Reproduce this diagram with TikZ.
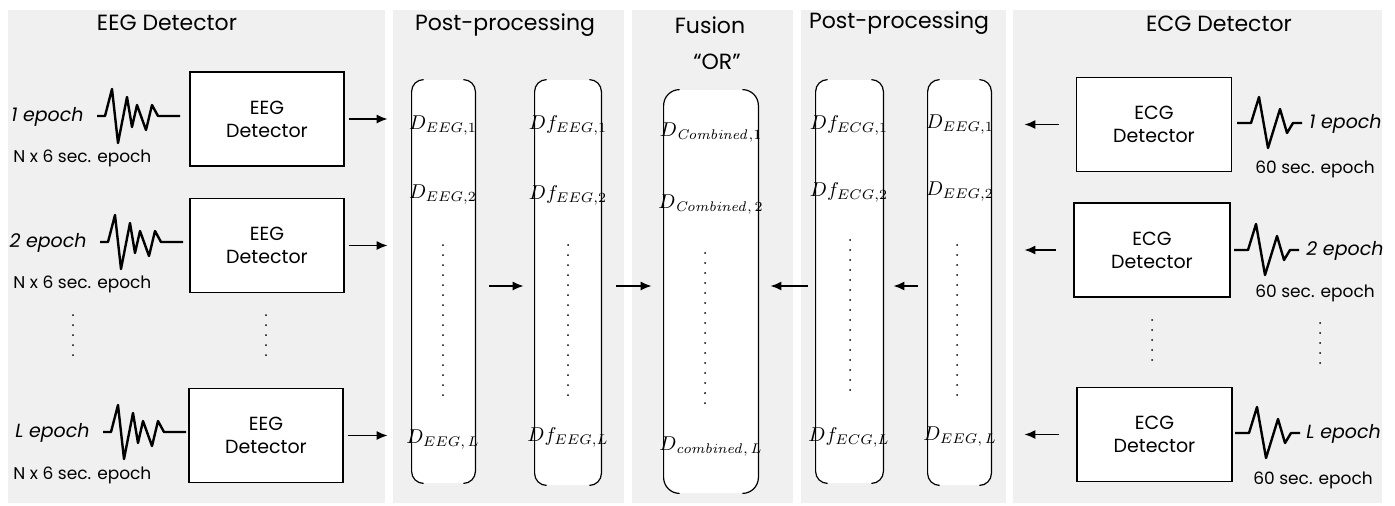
\documentclass[tikz,border=0pt]{standalone}
\usepackage{amsmath}
\usepackage[no-math]{fontspec}
\setmainfont{Poppins}
\usepackage{tikz}
\usetikzlibrary{arrows.meta, positioning}
\definecolor{panelgray}{HTML}{F0F0F0}

\begin{document}
\begin{tikzpicture}[
  x=0.5pt, y=-0.5pt,
  panel/.style={fill=panelgray, draw=none},
  title/.style={font=\fontsize{11}{13}\selectfont, inner sep=0pt},
  detector/.style={draw, line width=0.6pt, fill=white, minimum width=77pt, minimum height=47pt, align=center, font=\fontsize{9.5}{11.5}\selectfont},
  column/.style={fill=white, inner sep=0pt, rounded corners=6pt},
  brk/.style={line width=0.6pt},
  entry/.style={font=\fontsize{10}{11}\selectfont, inner sep=0pt},
  epoch/.style={font=\fontsize{9.5}{11}\selectfont\itshape, inner sep=0pt},
  seclabel/.style={font=\fontsize{8.5}{10}\selectfont, inner sep=0pt},
  vdots/.style={line width=1pt, line cap=round, dash pattern=on 0pt off 5pt},
  line/.style={draw, line width=0.75pt, -{Latex[length=5.5pt, width=4.5pt]}},
  wave/.style={line width=1.2pt, line join=round},
  eegwave/.pic={\draw[wave] (0,0) -- (8,0) -- (15,-27) -- (21,27) -- (30,-19) -- (35,11) -- (40,-11) -- (49,14) -- (55,-11) -- (61,0) -- (83,0);},
  ecgwave/.pic={\draw[wave] (0,0) -- (14,0) -- (22,-26) -- (31,25) -- (43,-14) -- (50,10) -- (56,0) -- (65,0);}
]
\useasboundingbox (0,0) rectangle (1395,505);

% Background panels
\fill[panel] (8,10) rectangle (385,503);
\fill[panel] (393,10) rectangle (624,503);
\fill[panel] (632,10) rectangle (793,503);
\fill[panel] (801,10) rectangle (1006,503);
\fill[panel] (1013,10) rectangle (1382,503);

% Titles
\node (teeg)   [title] at (167,23) {EEG Detector};
\node (tpost1) [title] at (505,25) {Post-processing};
\node (tfus)   [title] at (710,25) {Fusion};
\node (tor)    [title] at (717,62) {“OR”};
\node (tpost2) [title] at (899,23) {Post-processing};
\node (tecg)   [title] at (1219,24) {ECG Detector};

% EEG detectors
\node (eeg1) [detector] at (267,119) {EEG\\Detector};
\node (eeg2) [detector] at (267,245.5) {EEG\\Detector};
\node (eegL) [detector] at (266,435.5) {EEG\\Detector};

% EEG epochs
\pic at (97,116) {eegwave};
\pic at (100,242) {eegwave};
\pic at (103,432) {eegwave};
\node (ep1) [epoch, anchor=east] at (84,117) {1 epoch};
\node (ep2) [epoch, anchor=east] at (87,243) {2 epoch};
\node (epL) [epoch, anchor=east] at (90,433) {L epoch};
\node (ns1) [seclabel, anchor=west] at (13,158) {N x 6 sec. epoch};
\node (ns2) [seclabel, anchor=west] at (13,284) {N x 6 sec. epoch};
\node (nsL) [seclabel, anchor=west] at (13,475) {N x 6 sec. epoch};
\draw[vdots] (73,315) -- (73,356);
\draw[vdots] (266,315) -- (266,356);

% Post-processing columns
\node (c1) [column, minimum width=31.5pt, minimum height=201.5pt] at (443.5,281.5) {};
\node (c2) [column, minimum width=33pt, minimum height=202.5pt] at (568,282.5) {};
\node (fu) [column, rounded corners=8pt, minimum width=47pt, minimum height=201.5pt] at (711,291.5) {};
\node (c3) [column, minimum width=33.5pt, minimum height=201.5pt] at (849.5,281.5) {};
\node (c4) [column, minimum width=31.5pt, minimum height=202.5pt] at (959.5,282.5) {};
\foreach \c/\r in {c1/6,c2/6,fu/8,c3/6,c4/6}{
  \draw[brk] ([xshift=\r pt]\c.north west) to[out=180,in=90] ([yshift=-\r pt]\c.north west) -- ([yshift=\r pt]\c.south west) to[out=-90,in=180] ([xshift=\r pt]\c.south west);
  \draw[brk] ([xshift=-\r pt]\c.north east) to[out=0,in=90] ([yshift=-\r pt]\c.north east) -- ([yshift=\r pt]\c.south east) to[out=-90,in=0] ([xshift=-\r pt]\c.south east);
}

% Column entries
\node (d11) [entry] at (443,126) {$D_{EEG,1}$};
\node (d12) [entry] at (443,195) {$D_{EEG,2}$};
\node (d1L) [entry] at (443,440) {$D_{EEG,\,L}$};
\node (f11) [entry] at (568,125) {$Df_{EEG,1}$};
\node (f12) [entry] at (568,195) {$Df_{EEG,2}$};
\node (f1L) [entry] at (568,437) {$Df_{EEG,L}$};
\node (cb1) [entry] at (711,133) {$D_{\mathit{Combined},1}$};
\node (cb2) [entry] at (711,205) {$D_{\mathit{Combined},\,2}$};
\node (cbL) [entry] at (711,447) {$D_{\mathit{combined},\,L}$};
\node (f21) [entry] at (849,125) {$Df_{ECG,1}$};
\node (f22) [entry] at (849,192) {$Df_{ECG,2}$};
\node (f2L) [entry] at (849,437) {$Df_{ECG,L}$};
\node (d21) [entry] at (960,125) {$D_{EEG,1}$};
\node (d22) [entry] at (960,192) {$D_{EEG,2}$};
\node (d2L) [entry] at (960,437) {$D_{EEG,\,L}$};
\draw[vdots] (443,245) -- (443,398);
\draw[vdots] (568,245) -- (568,395);
\draw[vdots] (705,253) -- (705,404);
\draw[vdots] (850,240) -- (850,395);
\draw[vdots] (957,245) -- (957,400);

% ECG detectors
\node (ecg1) [detector, minimum width=77.5pt] at (1154,124.5) {ECG\\Detector};
\node (ecg2) [detector, minimum width=78pt] at (1152,250) {ECG\\Detector};
\node (ecgL) [detector, minimum width=77.5pt] at (1154.5,434.5) {ECG\\Detector};

% ECG epochs
\pic at (1237,123) {ecgwave};
\pic at (1234,250) {ecgwave};
\pic at (1235,433) {ecgwave};
\node (eq1) [epoch, anchor=west] at (1309,124) {1 epoch};
\node (eq2) [epoch, anchor=west] at (1306,251) {2 epoch};
\node (eqL) [epoch, anchor=west] at (1306,434) {L epoch};
\node (sx1) [seclabel] at (1315,169) {60 sec. epoch};
\node (sx2) [seclabel] at (1315,293) {60 sec. epoch};
\node (sxL) [seclabel] at (1313,480) {60 sec. epoch};
\draw[vdots] (1152,320) -- (1152,360);
\draw[vdots] (1320,323) -- (1320,363);

% Connections
\coordinate (midrow) at (0,286);
\foreach \b in {eeg1,eeg2,eegL}
  \draw[line, shorten <=2pt, shorten >=12pt] (\b.east) -- (\b.east -| c1.west);
\draw[line, shorten <=7pt, shorten >=5.5pt] (c1.east |- midrow) -- (c2.west |- midrow);
\draw[line, shorten <=7.5pt, shorten >=6pt] (c2.east |- midrow) -- (fu.west |- midrow);
\draw[line, shorten <=4pt, shorten >=6pt] (c3.west |- midrow) -- (fu.east |- midrow);
\draw[line, shorten <=5pt, shorten >=5pt] (c4.west |- midrow) -- (c3.east |- midrow);
\foreach \b in {ecg1,ecg2,ecgL}
  \draw[line, shorten <=8.5pt, shorten >=16.5pt] (\b.west) -- (\b.west -| c4.east);

\end{tikzpicture}
\end{document}
